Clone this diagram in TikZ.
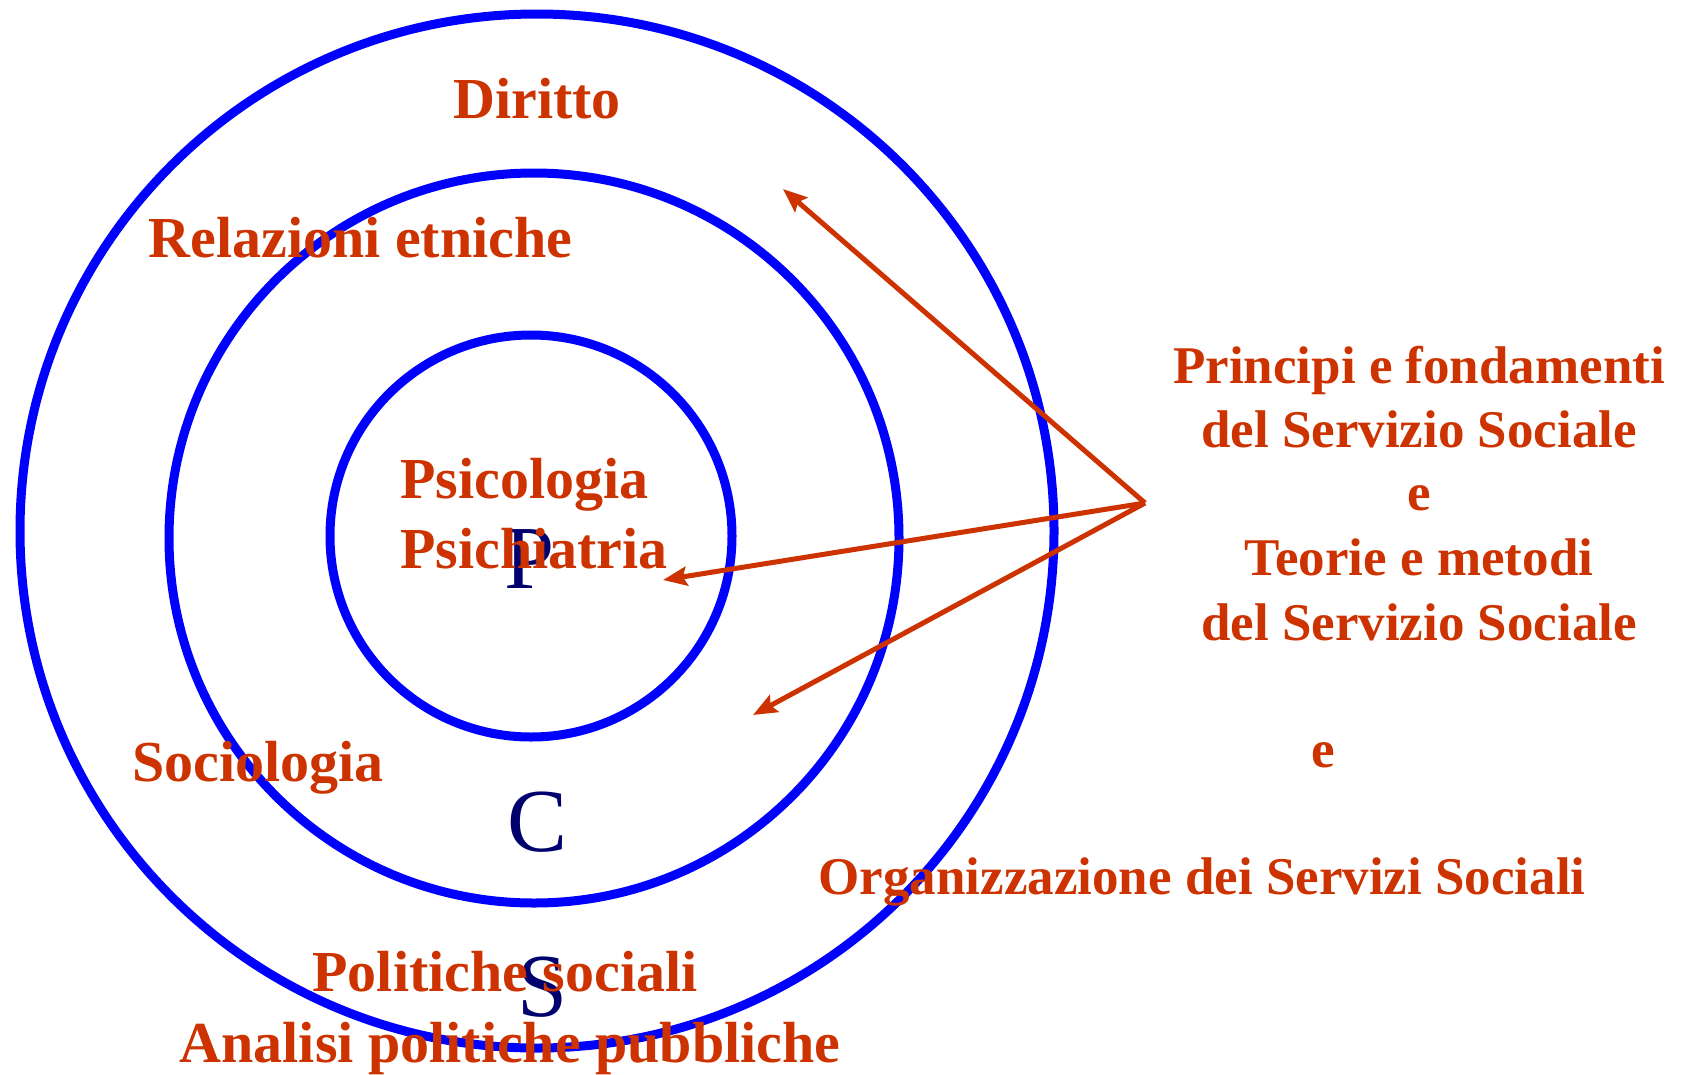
\documentclass[tikz,border=0pt]{standalone}
\usepackage{fontspec}
\setmainfont{Liberation Serif}
\usetikzlibrary{arrows.meta}
\definecolor{ringblue}{RGB}{0,0,255}
\definecolor{labred}{RGB}{204,51,0}
\definecolor{letnavy}{RGB}{0,0,110}
\begin{document}
\begin{tikzpicture}[x=1pt,y=-1pt,
  ring/.style={draw=ringblue,line width=9pt},
  lab/.style={text=labred,font=\fontsize{58}{64}\selectfont\bfseries,inner sep=0pt,anchor=base},
  side/.style={text=labred,font=\fontsize{53}{64}\selectfont\bfseries,inner sep=0pt,anchor=base},
  letter/.style={text=letnavy,font=\fontsize{90}{100}\selectfont,inner sep=0pt,anchor=base},
  pointer/.style={draw=labred,line width=5pt,-{Stealth[length=24pt,width=19pt,inset=4pt]}}]
\useasboundingbox (0,0) rectangle (1683,1074);
% rings
\draw[ring] (537,531) circle[radius=517pt];
\draw[ring] (534,538) circle[radius=365pt];
\draw[ring] (531,536) circle[radius=201pt];
% zone letters
\node[letter] (lp) at (530,588) {P};
\node[letter] (lc) at (538,851) {C};
\node[letter] (ls) at (543,1016) {S};
% labels in rings
\node[lab] (diritto) at (537,118) {Diritto};
\node[lab] (relaz) at (360.5,257) {Relazioni etniche};
\node[lab,anchor=base west] (psico) at (400,498) {Psicologia};
\node[lab,anchor=base west] (psichi) at (400,568) {Psichiatria};
\node[lab] (socio) at (258,781) {Sociologia};
\node[lab] (polsoc) at (505,991) {Politiche sociali};
\node[lab] (analisi) at (510,1062) {Analisi politiche pubbliche};
% side text
\node[side] (pr1) at (1419,383) {Principi e fondamenti};
\node[side] (pr2) at (1419,447) {del Servizio Sociale};
\node[side] (pr3) at (1419,510) {e};
\node[side] (pr4) at (1419,575) {Teorie e metodi};
\node[side] (pr5) at (1419,640) {del Servizio Sociale};
\node[side] (pr6) at (1323,767) {e};
\node[side] (pr7) at (1202,894) {Organizzazione dei Servizi Sociali};
% pointers
\coordinate (apex) at (1145,503);
\coordinate (t1) at (783,189);
\coordinate (t2) at (663,580);
\coordinate (t3) at (753,715);
\draw[pointer] (apex) -- (t1);
\draw[pointer] (apex) -- (t2);
\draw[pointer] (apex) -- (t3);
\end{tikzpicture}
\end{document}
